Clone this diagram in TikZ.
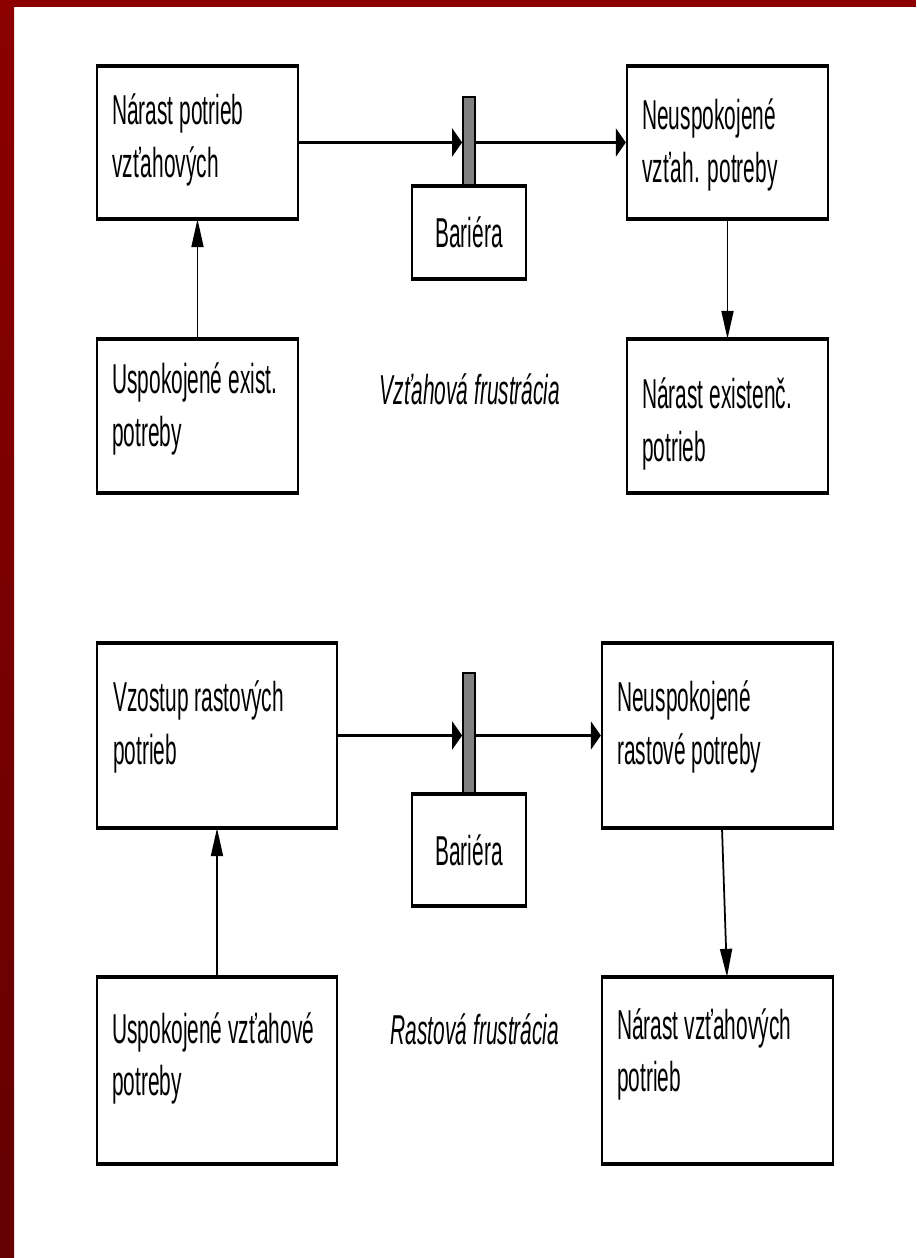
\documentclass[tikz,border=0pt]{standalone}
\usepackage{fontspec}
\newfontfamily\boxfont{Liberation Sans}[FakeStretch=0.5]
\usetikzlibrary{arrows.meta}
\definecolor{frameTop}{RGB}{140,0,0}
\definecolor{frameBot}{RGB}{100,0,0}

\begin{document}
\begin{tikzpicture}[
   font=\boxfont\fontsize{23.8}{30.1}\selectfont,
   box/.style={draw, line width=1.3pt, inner sep=0pt},
   txt/.style={anchor=north west, align=left, inner sep=0pt},
   lbl/.style={anchor=base, inner sep=0pt, font=\boxfont\itshape\fontsize{23.8}{30.1}\selectfont},
   stopbar/.style={draw, fill=gray, line width=1pt, inner sep=0pt, minimum width=0.24cm},
   harrow/.style={line width=2pt, -{Triangle[length=0.2cm,width=0.56cm]}},
   varrow/.style={line width=1pt, -{Triangle[length=0.56cm,width=0.24cm]}}]
   \useasboundingbox (0,0) rectangle (18.32,25.16);
   \fill[white] (0,0) rectangle (18.32,25.16);
   \fill[frameTop] (0,25.02) rectangle (18.32,25.16);
   \shade[top color=frameTop, bottom color=frameBot] (0,0) rectangle (0.28,25.16);

   % upper scheme
   \node[box, minimum width=4.02cm, minimum height=3.02cm] (narVzt) at (3.95,22.31) {};
   \node[box, minimum width=4.02cm, minimum height=3.04cm] (uspExist) at (3.95,16.84) {};
   \node[box, minimum width=4.02cm, minimum height=3.02cm] (neuVzt) at (14.55,22.31) {};
   \node[box, minimum width=4.02cm, minimum height=3.04cm] (narExist) at (14.55,16.84) {};
   \node[stopbar, minimum height=1.8cm] (stop1) at (9.38,22.32) {};
   \node[box, minimum width=2.28cm, minimum height=1.82cm] (bar1) at (9.38,20.51) {};
   \node at (bar1) {Bariéra};

   \node[txt] (narVztT) at ([shift={(0.32,-0.55)}]narVzt.north west) {Nárast potrieb\\vzťahových};
   \node[txt] (uspExistT) at ([shift={(0.32,-0.48)}]uspExist.north west) {Uspokojené exist.\\potreby};
   \node[txt] (neuVztT) at ([shift={(0.32,-0.65)}]neuVzt.north west) {Neuspokojené\\vzťah. potreby};
   \node[txt] (narExistT) at ([shift={(0.32,-0.78)}]narExist.north west) {Nárast existenč.\\potrieb};
   \node[lbl] (frust1) at (9.4,17.06) {Vzťahová frustrácia};

   \draw[harrow] (narVzt.east) -- (narVzt.east -| stop1.west);
   \draw[harrow] (stop1.east |- narVzt.east) -- (neuVzt.west);
   \draw[varrow] (neuVzt.south) -- (narExist.north);
   \draw[varrow] (uspExist.north) -- (narVzt.south);

   % lower scheme
   \node[box, minimum width=4.8cm, minimum height=3.66cm] (vzoRast) at (4.34,10.45) {};
   \node[box, minimum width=4.8cm, minimum height=3.7cm] (uspVzt) at (4.34,3.75) {};
   \node[box, minimum width=4.62cm, minimum height=3.66cm] (neuRast) at (14.35,10.45) {};
   \node[box, minimum width=4.62cm, minimum height=3.7cm] (narVzt2) at (14.35,3.75) {};
   \node[stopbar, minimum height=2.44cm] (stop2) at (9.38,10.48) {};
   \node[box, minimum width=2.28cm, minimum height=2.2cm] (bar2) at (9.38,8.16) {};
   \node at (bar2) {Bariéra};

   \node[txt] (vzoRastT) at ([shift={(0.34,-0.75)}]vzoRast.north west) {Vzostup rastových\\potrieb};
   \node[txt] (uspVztT) at ([shift={(0.32,-0.7)}]uspVzt.north west) {Uspokojené vzťahové\\potreby};
   \node[txt] (neuRastT) at ([shift={(0.32,-0.75)}]neuRast.north west) {Neuspokojené\\rastové potreby};
   \node[txt] (narVzt2T) at ([shift={(0.32,-0.62)}]narVzt2.north west) {Nárast vzťahových\\potrieb};
   \node[lbl] (frust2) at (9.5,4.26) {Rastová frustrácia};

   \draw[harrow] (vzoRast.east) -- (vzoRast.east -| stop2.west);
   \draw[harrow] (stop2.east |- vzoRast.east) -- (neuRast.west);
   \draw[varrow] ([xshift=0.09cm]neuRast.south) -- ([xshift=0.19cm]narVzt2.north);
   \draw[varrow] (uspVzt.north) -- (vzoRast.south);

   % heavier top and bottom edges
   \foreach \n in {narVzt,uspExist,neuVzt,narExist,bar1,vzoRast,uspVzt,neuRast,narVzt2,bar2}
      \draw[line width=2pt] (\n.north west) -- (\n.north east) (\n.south west) -- (\n.south east);
\end{tikzpicture}
\end{document}
